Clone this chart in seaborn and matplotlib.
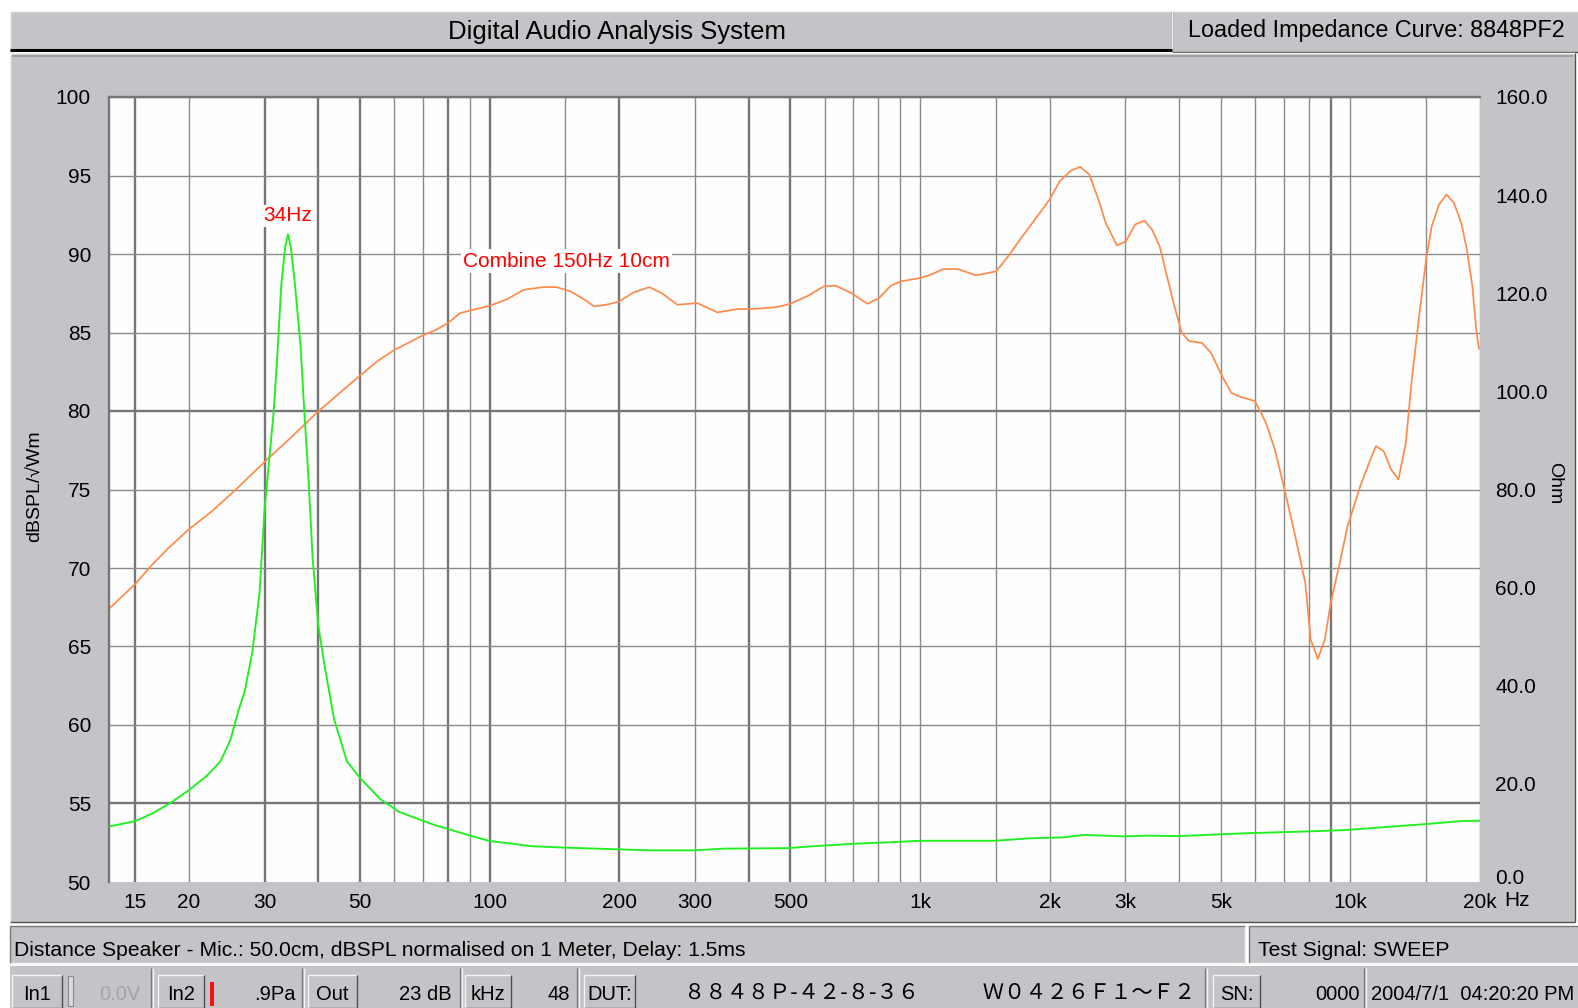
import matplotlib
matplotlib.use("Agg")
import matplotlib.pyplot as plt
from matplotlib.patches import Rectangle
from matplotlib.lines import Line2D
from matplotlib.ticker import NullLocator, FixedLocator, FixedFormatter
from matplotlib.transforms import ScaledTranslation
import seaborn as sns
import pandas as pd

# ---------------------------------------------------------------- data
# Sound pressure response, "Combine 150Hz 10cm" (Hz, dBSPL)
spl_freq = [13.05, 15, 16.4, 17.9, 20, 22.6, 25.5, 30, 34.2, 40, 45, 50, 55, 60,
            70, 75, 80, 85.3, 90, 100, 110, 120, 133, 143, 154, 164, 175, 187,
            200, 216, 235, 251, 273, 304, 338, 376, 418, 465, 500, 549, 598,
            637, 693, 754, 803, 855, 903, 1000, 1059, 1132, 1224, 1349, 1500,
            1545, 1617, 1715, 1804, 1896, 2000, 2112, 2243, 2354, 2474, 2597,
            2700, 2867, 3009, 3161, 3322, 3458, 3603, 3747, 3900, 4055, 4220,
            4516, 4743, 5034, 5286, 5555, 6000, 6364, 6674, 7000, 7415, 7854,
            8082, 8400, 8720, 9000, 9410, 9850, 10540, 11050, 11460, 11950,
            12430, 12930, 13450, 13860, 14410, 14990, 15450, 16060, 16720,
            17390, 18090, 18640, 19200, 19600, 19890]
spl_db = [67.4, 68.97, 70.18, 71.25, 72.46, 73.6, 74.9, 76.76, 78.2, 79.98,
          81.19, 82.26, 83.2, 83.88, 84.82, 85.17, 85.6, 86.23, 86.4, 86.7,
          87.13, 87.72, 87.89, 87.89, 87.62, 87.19, 86.66, 86.77, 86.98, 87.55,
          87.89, 87.51, 86.77, 86.87, 86.28, 86.49, 86.51, 86.62, 86.83, 87.34,
          87.94, 87.98, 87.51, 86.83, 87.19, 87.98, 88.26, 88.47, 88.68, 89.04,
          89.04, 88.64, 88.89, 89.3, 90.0, 91.0, 91.8, 92.6, 93.47, 94.64,
          95.32, 95.55, 95.06, 93.47, 91.99, 90.54, 90.82, 91.88, 92.13, 91.56,
          90.5, 88.59, 86.68, 84.98, 84.45, 84.34, 83.7, 82.22, 81.16, 80.9,
          80.63, 79.25, 77.55, 75.21, 72.24, 69.05, 65.45, 64.21, 65.45, 67.78,
          70.12, 72.67, 75.21, 76.7, 77.76, 77.44, 76.27, 75.64, 77.97, 81.79,
          85.83, 89.65, 91.77, 93.15, 93.79, 93.26, 91.99, 90.29, 87.95, 85.19,
          83.96]

# Loaded impedance curve (Hz, Ohm)
imp_freq = [13.05, 15, 16.4, 18.2, 20, 22, 23.7, 25.0, 26.1, 27.0, 28.1, 29.2,
            30.0, 30.9, 31.5, 32.1, 32.8, 33.5, 34.0, 34.5, 35.3, 36.4, 37.1,
            37.9, 38.8, 40.0, 41.3, 43.5, 46.6, 50, 55.7, 61.6, 74, 89, 100,
            113, 125, 150, 200, 236, 300, 350, 492, 567, 703, 853, 1000, 1489,
            1792, 2156, 2398, 2969, 3387, 3970, 5755, 7910, 9780, 12100, 14930,
            17990, 20000]
imp_ohm = [11.3, 12.4, 13.9, 16.2, 18.7, 21.6, 24.6, 29.0, 35.0, 39.0, 46.9,
           59.0, 76.0, 88.0, 96.0, 107.0, 121.7, 129.5, 132.0, 129.5, 121.7,
           108.8, 95.9, 83.0, 65.9, 52.1, 44.4, 33.2, 24.6, 21.2, 16.9, 14.3,
           11.7, 9.6, 8.35, 7.8, 7.3, 7.0, 6.65, 6.46, 6.46, 6.8, 6.9, 7.3, 7.8,
           8.1, 8.4, 8.4, 8.9, 9.1, 9.6, 9.3, 9.45, 9.35, 9.95, 10.3, 10.6, 11.2,
           11.8, 12.4, 12.5]

resonance_hz = 34
x_ticks = [15, 20, 30, 50, 100, 200, 300, 500, 1000, 2000, 3000, 5000, 10000, 20000]
x_tick_labels = ["15", "20", "30", "50", "100", "200", "300", "500", "1k", "2k",
                 "3k", "5k", "10k", "20k"]
x_grid = [15, 20, 30, 40, 50, 60, 70, 80, 90, 100, 150, 200, 300, 400, 500, 600,
          700, 800, 900, 1000, 1500, 2000, 3000, 4000, 5000, 6000, 7000, 8000,
          9000, 10000, 15000, 20000]
x_grid_heavy = [15, 30, 40, 50, 80, 100, 200, 400, 500, 9000]
db_ticks = list(range(50, 101, 5))
ohm_ticks = list(range(0, 161, 20))

spl = pd.DataFrame({"freq": spl_freq, "db": spl_db})
imp = pd.DataFrame({"freq": imp_freq, "ohm": imp_ohm})

# ---------------------------------------------------------------- style
sns.set_theme(style="white")
plt.rcParams["font.family"] = ["Liberation Sans", "DejaVu Sans"]

W, H = 1578, 1008
PANEL = "#c4c4c8"
GRID = "#8a8a8a"
GRID_HEAVY = "#767676"
ORANGE = "#ff8a4a"
GREEN = "#1ef01e"

fig = plt.figure(figsize=(W / 100, H / 100), dpi=100, facecolor="white")


def box(x, y, w, h, fc, ec="none", lw=0.0, z=0):
    fig.add_artist(Rectangle((x / W, 1 - (y + h) / H), w / W, h / H,
                             transform=fig.transFigure, facecolor=fc,
                             edgecolor=ec, linewidth=lw, zorder=z))


def seg(x0, y0, x1, y1, color, lw=1.0, z=1):
    fig.add_artist(Line2D([x0 / W, x1 / W], [1 - y0 / H, 1 - y1 / H],
                          transform=fig.transFigure, color=color,
                          linewidth=lw, zorder=z, solid_capstyle="butt"))


def bevel(x, y, w, h, raised=True, z=1):
    box(x, y, w, h, PANEL, z=z)
    hi, lo = ("#f4f4f4", "#505050") if raised else ("#7a7a7a", "#f4f4f4")
    seg(x, y, x + w, y, hi, 1.0, z + 0.1)
    seg(x, y, x, y + h, hi, 1.0, z + 0.1)
    seg(x, y + h, x + w, y + h, lo, 1.0, z + 0.1)
    seg(x + w, y, x + w, y + h, lo, 1.0, z + 0.1)


def ftext(x, y, s, **kw):
    kw.setdefault("va", "center")
    kw.setdefault("fontsize", 14)
    kw.setdefault("color", "black")
    kw.setdefault("zorder", 4)
    fig.text(x / W, 1 - y / H, s, **kw)


# window chrome: header strip, chart panel and two status rows
bevel(10, 11, 1162, 39, raised=True)
seg(10, 49.5, 1172, 49.5, "black", 2.2, 2)
bevel(1172, 11, 410, 41, raised=True)
bevel(10, 53, 1565, 869, raised=True)
seg(12, 55.5, 1573, 55.5, "#9a9a9a", 1.2, 2)
bevel(10, 926, 1235, 37, raised=False)
bevel(1249, 926, 335, 37, raised=False)
box(10, 966, 1572, 42, PANEL)

ftext(617, 32, "Digital Audio Analysis System", ha="center", fontsize=18.5)
ftext(1188, 31, "Loaded Impedance Curve: 8848PF2", ha="left", fontsize=16.8)
ftext(14, 951, "Distance Speaker - Mic.: 50.0cm, dBSPL normalised on 1 Meter, "
      "Delay: 1.5ms", ha="left", fontsize=15.2)
ftext(1258, 951, "Test Signal: SWEEP", ha="left", fontsize=15.2)

# bottom status row
ROW = 994
for x0, x1, label in [(12, 62, "In1"), (158, 204, "In2"), (308, 357, "Out"),
                      (465, 511, "kHz"), (584, 635, "DUT:"), (1213, 1260, "SN:")]:
    bevel(x0, 975, x1 - x0, 33, raised=True, z=2)
    ftext((x0 + x1) / 2, ROW, label, ha="center", fontsize=14.5)
for xs in [151, 302, 460, 577, 1205, 1364]:
    seg(xs, 968, xs, 1008, "#7a7a7a", 1.0, 2)
    seg(xs + 1.5, 968, xs + 1.5, 1008, "#f4f4f4", 1.0, 2)
box(68, 976, 5, 30, "#dcdcdc", ec="#8a8a8a", lw=0.8, z=2)
box(210, 982, 4, 24, "#ff1010", z=2)
ftext(141, ROW, "0.0V", ha="right", color="#a4a4a4", fontsize=14.5)
ftext(296, ROW, ".9Pa", ha="right", fontsize=14.5)
ftext(452, ROW, "23 dB", ha="right", fontsize=14.5)
ftext(570, ROW, "48", ha="right", fontsize=14.5)
ftext(684, ROW - 1, "８８４８Ｐ-４２-８-３６　　　Ｗ０４２６Ｆ１～Ｆ２", ha="left",
      fontsize=15.3, family=["Noto Sans CJK JP", "DejaVu Sans"])
ftext(1360, ROW, "0000", ha="right", fontsize=14.5)
ftext(1371, ROW, "2004/7/1  04:20:20 PM", ha="left", fontsize=14.5)

# ---------------------------------------------------------------- chart
L, R, T, B = 109, 1480, 97, 882
ax = fig.add_axes([L / W, 1 - B / H, (R - L) / W, (B - T) / H])
ax.set_zorder(5)
ax.set_facecolor("#fdfefd")
ax.set_axisbelow(True)

sns.lineplot(data=spl, x="freq", y="db", ax=ax, color=ORANGE, linewidth=1.25,
             sort=False, estimator=None)
ax.set_xscale("log")
ax.set_xlim(13.05, 20000)
ax.set_ylim(50, 100)
ax.xaxis.set_major_locator(FixedLocator(x_grid))
ax.xaxis.set_major_formatter(FixedFormatter(
    [x_tick_labels[x_ticks.index(f)] if f in x_ticks else "" for f in x_grid]))
ax.xaxis.set_minor_locator(NullLocator())
ax.set_yticks(db_ticks)
ax.grid(True, which="major", color=GRID, linewidth=1.0)
for f, gl in zip(x_grid, ax.get_xgridlines()):
    if f in x_grid_heavy:
        gl.set_linewidth(1.7)
        gl.set_color(GRID_HEAVY)
for v, gl in zip(db_ticks, ax.get_ygridlines()):
    if v in (55, 80):
        gl.set_linewidth(1.7)
        gl.set_color(GRID_HEAVY)
    if v == 50:
        gl.set_visible(False)

for side in ("right", "bottom"):
    ax.spines[side].set_visible(False)
for side in ("left", "top"):
    ax.spines[side].set_color(GRID_HEAVY)
    ax.spines[side].set_linewidth(1.7)

ax.tick_params(axis="x", length=0, pad=8, labelsize=15, colors="black")
ax.tick_params(axis="y", length=0, pad=13, labelsize=15, colors="black")
ax.set_xlabel("")
ax.set_ylabel("")
ax.text(86.9, 89.55, "Combine 150Hz 10cm", color="#ff0000", fontsize=15,
        ha="left", va="center", zorder=5,
        bbox=dict(facecolor="white", edgecolor="none", pad=1.5))

ax2 = ax.twinx()
ax2.set_zorder(6)
sns.lineplot(data=imp, x="freq", y="ohm", ax=ax2, color=GREEN, linewidth=1.35,
             sort=False, estimator=None)
ax2.set_xlim(13.05, 20000)
ax2.set_ylim(0, 160)
ax2.set_yticks(ohm_ticks)
ax2.set_yticklabels([f"{v:.1f}" for v in ohm_ticks])
ax2.grid(False)
for s in ax2.spines.values():
    s.set_visible(False)
ax2.tick_params(axis="y", length=0, pad=11, labelsize=15, colors="black")
ax2.set_xlabel("")
ax2.set_ylabel("")
# the bottom value label sits a little above the axis floor
zero_lbl = ax2.get_yticklabels()[0]
zero_lbl.set_transform(zero_lbl.get_transform()
                       + ScaledTranslation(0, 5 / 100, fig.dpi_scale_trans))
ax2.text(resonance_hz, 135.8, f"{resonance_hz}Hz", color="#ff0000", fontsize=15,
         ha="center", va="center", zorder=5,
         bbox=dict(facecolor="white", edgecolor="none", pad=1.0))

ftext(35, 486, "dBSPL/√Wm", ha="center", rotation=90, fontsize=14)
ftext(1555, 483, "Ohm", ha="center", rotation=-90, fontsize=14)
ftext(1504, 900, "Hz", ha="left", fontsize=15)

fig.savefig("out.png", dpi=100, facecolor=fig.get_facecolor())
